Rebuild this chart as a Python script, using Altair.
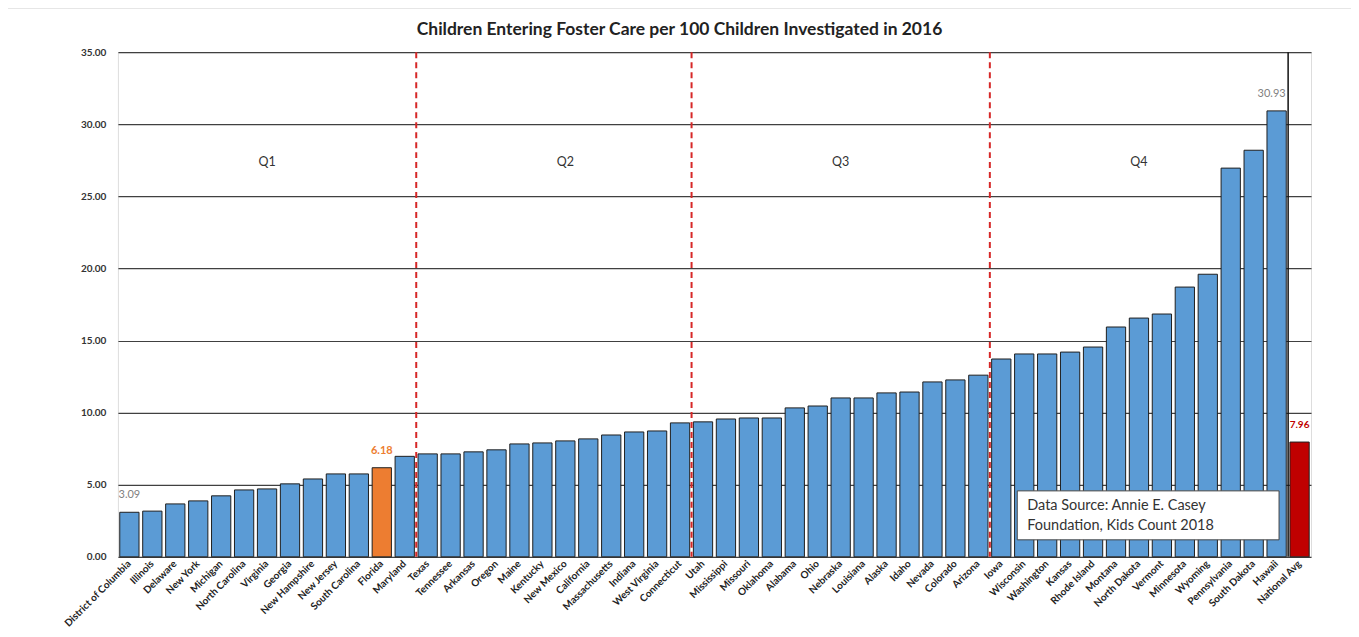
import altair as alt
import pandas as pd

states = ["District of Columbia", "Illinois", "Delaware", "New York", "Michigan", "North Carolina",
          "Virginia", "Georgia", "New Hampshire", "New Jersey", "South Carolina", "Florida", "Maryland",
          "Texas", "Tennessee", "Arkansas", "Oregon", "Maine", "Kentucky", "New Mexico", "California",
          "Massachusetts", "Indiana", "West Virginia", "Connecticut", "Utah", "Mississippi", "Missouri",
          "Oklahoma", "Alabama", "Ohio", "Nebraska", "Louisiana", "Alaska", "Idaho", "Nevada", "Colorado",
          "Arizona", "Iowa", "Wisconsin", "Washington", "Kansas", "Rhode Island", "Montana", "North Dakota",
          "Vermont", "Minnesota", "Wyoming", "Pennsylvania", "South Dakota", "Hawaii", "National Avg"]
values = [3.09, 3.17, 3.67, 3.88, 4.23, 4.64,
          4.71, 5.06, 5.40, 5.75, 5.75, 6.18, 6.97,
          7.14, 7.14, 7.28, 7.42, 7.83, 7.90, 8.04, 8.18,
          8.45, 8.66, 8.73, 9.29, 9.36, 9.56, 9.63,
          9.63, 10.33, 10.46, 11.02, 11.02, 11.37, 11.43, 12.13, 12.27,
          12.60, 13.72, 14.07, 14.07, 14.20, 14.55, 15.94, 16.56,
          16.84, 18.71, 19.60, 26.96, 28.20, 30.93, 7.96]
highlight = {"Florida": "Florida", "National Avg": "National"}
groups = [highlight.get(s, "State") for s in states]

label_states = ["District of Columbia", "Florida", "Hawaii", "National Avg"]
label_texts = ["3.09", "6.18", "30.93", "7.96"]
label_values = [3.09, 6.18, 30.93, 7.96]

divider_states = ["Texas", "Utah", "Iowa"]
quartile_names = ["Q1", "Q2", "Q3", "Q4"]
quartile_anchor = ["Virginia", "New Mexico", "Nebraska", "North Dakota"]
quartile_y = 27.4

title_text = "Children Entering Foster Care per 100 Children Investigated in 2016"
source_lines = ["Data Source: Annie E. Casey", "Foundation, Kids Count 2018"]
y_ticks = [0, 5, 10, 15, 20, 25, 30, 35]

df = pd.DataFrame({"state": states, "value": values, "group": groups})
lab = pd.DataFrame({"state": label_states, "text": label_texts, "value": label_values})
div = pd.DataFrame({"state": divider_states})
qdf = pd.DataFrame({"q": quartile_names, "state": quartile_anchor, "value": [quartile_y] * 4})

FONT = "Lato"
xscale = alt.Scale(domain=states, paddingInner=0.16, paddingOuter=0.08)
yscale = alt.Scale(domain=[0, 35])

xenc = alt.X("state:N", sort=states, scale=xscale, title=None,
             axis=alt.Axis(labelAngle=315, labelFont=FONT, labelFontWeight="bold", labelFontSize=10,
                           labelColor="#222222", ticks=False, domain=False, labelPadding=5,
                           labelAlign="right", labelBaseline="middle"))
yenc = alt.Y("value:Q", scale=yscale, title=None,
             axis=alt.Axis(values=y_ticks, format=".2f", labelFont=FONT, labelFontWeight="bold",
                           labelFontSize=10, labelColor="#333333", ticks=False, domain=False,
                           labelPadding=12, grid=True, gridColor="#404040", gridWidth=1.2))

bars = alt.Chart(df).mark_bar(stroke="#1f1f1f", strokeWidth=1).encode(
    x=xenc, y=yenc,
    color=alt.Color("group:N", scale=alt.Scale(domain=["State", "Florida", "National"],
                                               range=["#5B9BD5", "#ED7D31", "#C00000"]), legend=None)
)

dividers = alt.Chart(div).mark_rule(color="#D62828", strokeWidth=2, strokeDash=[6, 4], xOffset=-1.8).encode(
    x=alt.X("state:N", sort=states, scale=xscale, bandPosition=0)
)
natline = alt.Chart(pd.DataFrame({"state": ["National Avg"]})).mark_rule(
    color="#111111", strokeWidth=1.5, xOffset=-1.8).encode(
    x=alt.X("state:N", sort=states, scale=xscale, bandPosition=0)
)

def value_label(i, color, weight, size, dx=0):
    return alt.Chart(lab.iloc[[i]]).mark_text(
        font=FONT, fontSize=size, fontWeight=weight, color=color, dy=-12, dx=dx, baseline="bottom"
    ).encode(x=alt.X("state:N", sort=states, scale=xscale), y=alt.Y("value:Q", scale=yscale), text="text:N")

labels = (value_label(0, "#7f7f7f", "normal", 11) + value_label(1, "#ED7D31", "bold", 11)
          + value_label(2, "#7f7f7f", "normal", 11, dx=-5) + value_label(3, "#C00000", "bold", 10))

qlabels = alt.Chart(qdf).mark_text(font=FONT, fontSize=12.5, color="#333333").encode(
    x=alt.X("state:N", sort=states, scale=xscale), y=alt.Y("value:Q", scale=yscale), text="q:N"
)

title = alt.Chart(pd.DataFrame({"t": [title_text]})).mark_text(
    font=FONT, fontSize=17.5, fontWeight="bold", color="#222222"
).encode(x=alt.value(562), y=alt.value(-22), text="t:N")

frame = alt.Chart(pd.DataFrame({"a": [1]})).mark_rect(fill=None, stroke="#e6e6e6", strokeWidth=1.5).encode(
    x=alt.value(-112), x2=alt.value(1237), y=alt.value(-44), y2=alt.value(600)
)

box = alt.Chart(pd.DataFrame({"a": [1]})).mark_rect(fill="white", stroke="#444444", strokeWidth=1).encode(
    x=alt.value(900), x2=alt.value(1162), y=alt.value(439), y2=alt.value(488)
)
src1 = alt.Chart(pd.DataFrame({"t": [source_lines[0]]})).mark_text(
    font=FONT, fontSize=14.5, color="#333333", align="left").encode(x=alt.value(910), y=alt.value(454), text="t:N")
src2 = alt.Chart(pd.DataFrame({"t": [source_lines[1]]})).mark_text(
    font=FONT, fontSize=14.5, color="#333333", align="left").encode(x=alt.value(910), y=alt.value(474), text="t:N")

chart = alt.layer(frame, bars, dividers, natline, labels, qlabels, title, box, src1, src2).properties(
    width=1194, height=505,
    autosize=alt.AutoSizeParams(type="none"),
    padding={"left": 110, "top": 44, "right": 40, "bottom": 76},
).configure_view(stroke=None).configure(background="white")

chart.save("out.html", embed_options={"renderer": "svg", "actions": False})
